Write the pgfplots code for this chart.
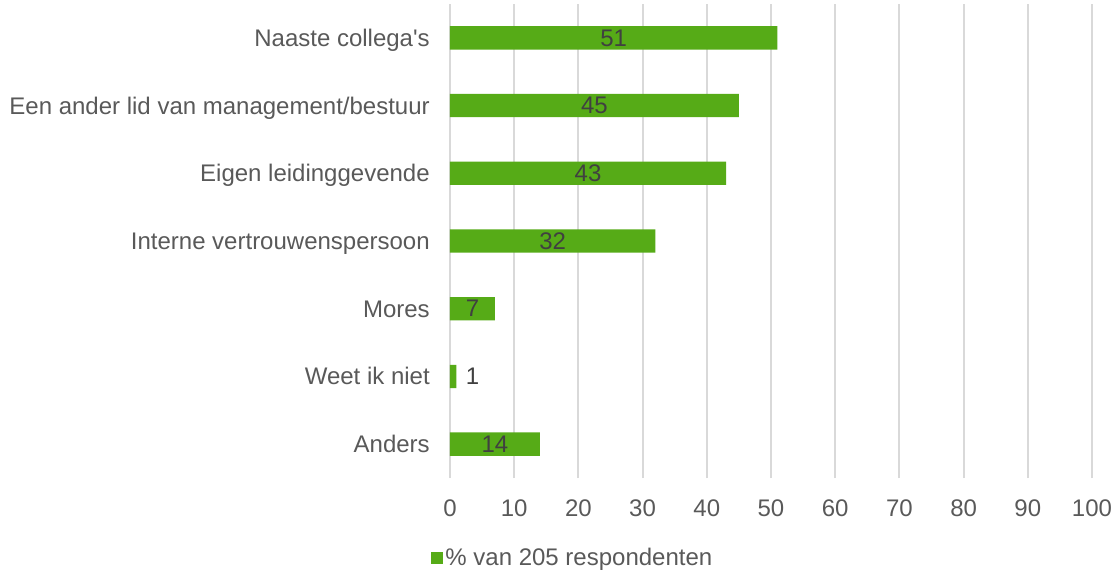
\documentclass[border=0pt]{standalone}
\usepackage{fontspec}
\setmainfont{Liberation Sans}
\usepackage{pgfplots}
\pgfplotsset{compat=1.18}
\definecolor{barg}{HTML}{56AB17}
\definecolor{txt}{HTML}{595959}
\definecolor{lab}{HTML}{404040}
\definecolor{grd}{HTML}{D9D9D9}
\begin{document}
\fontsize{18pt}{21pt}\selectfont
\begin{tikzpicture}
\useasboundingbox (-337.5pt,-70.5pt) rectangle (500.25pt,358.5pt);
\begin{axis}[
  at={(0pt,0pt)}, anchor=south west,
  scale only axis, width=481.5pt, height=355.5pt,
  xmin=0, xmax=100, ymin=-0.5, ymax=6.5,
  xtick={0,10,...,100}, ytick={0,1,2,3,4,5,6},
  yticklabels={Anders, Weet ik niet, Mores, Interne vertrouwenspersoon, Eigen leidinggevende, Een ander lid van management/bestuur, Naaste collega\textquotesingle s},
  xmajorgrids, ymajorgrids=false,
  grid style={grd, line width=1.4pt},
  axis line style={draw=none},
  major tick length=0pt,
  tick label style={font=\fontsize{18pt}{21pt}\selectfont, text=txt},
  /pgf/number format/assume math mode=true,
  xticklabel style={anchor=center, inner sep=0pt, yshift=-22.5pt},
  yticklabel style={anchor=base east, inner sep=0pt, xshift=-15pt, yshift=-6.4pt},
  legend style={at={(axis description cs:0.191,-0.169)}, anchor=center, draw=none, fill=none,
    font=\fontsize{18pt}{21pt}\selectfont, text=txt, inner sep=0pt, nodes={inner sep=1.5pt}},
]
\addplot[xbar, bar width=17.5pt, fill=barg, draw=none,
  legend image code/.code={\fill[barg] (0pt,-4.7pt) rectangle (9.4pt,4.7pt);}]
  table[x=v, y=y] {
y v
6 51
5 45
4 43
3 32
2 7
1 1
0 14
};
\addlegendentry{\% van 205 respondenten}
\addplot[draw=none, forget plot, nodes near coords, point meta=explicit symbolic,
  nodes near coords style={anchor=center, text=lab, inner sep=0pt, font=\fontsize{18pt}{21pt}\selectfont}]
  table[x=p, y=y, meta=v] {
y v p
6 51 25.5
5 45 22.5
4 43 21.5
3 32 16
2 7 3.5
1 1 3.5
0 14 7
};
\end{axis}
\end{tikzpicture}
\end{document}
